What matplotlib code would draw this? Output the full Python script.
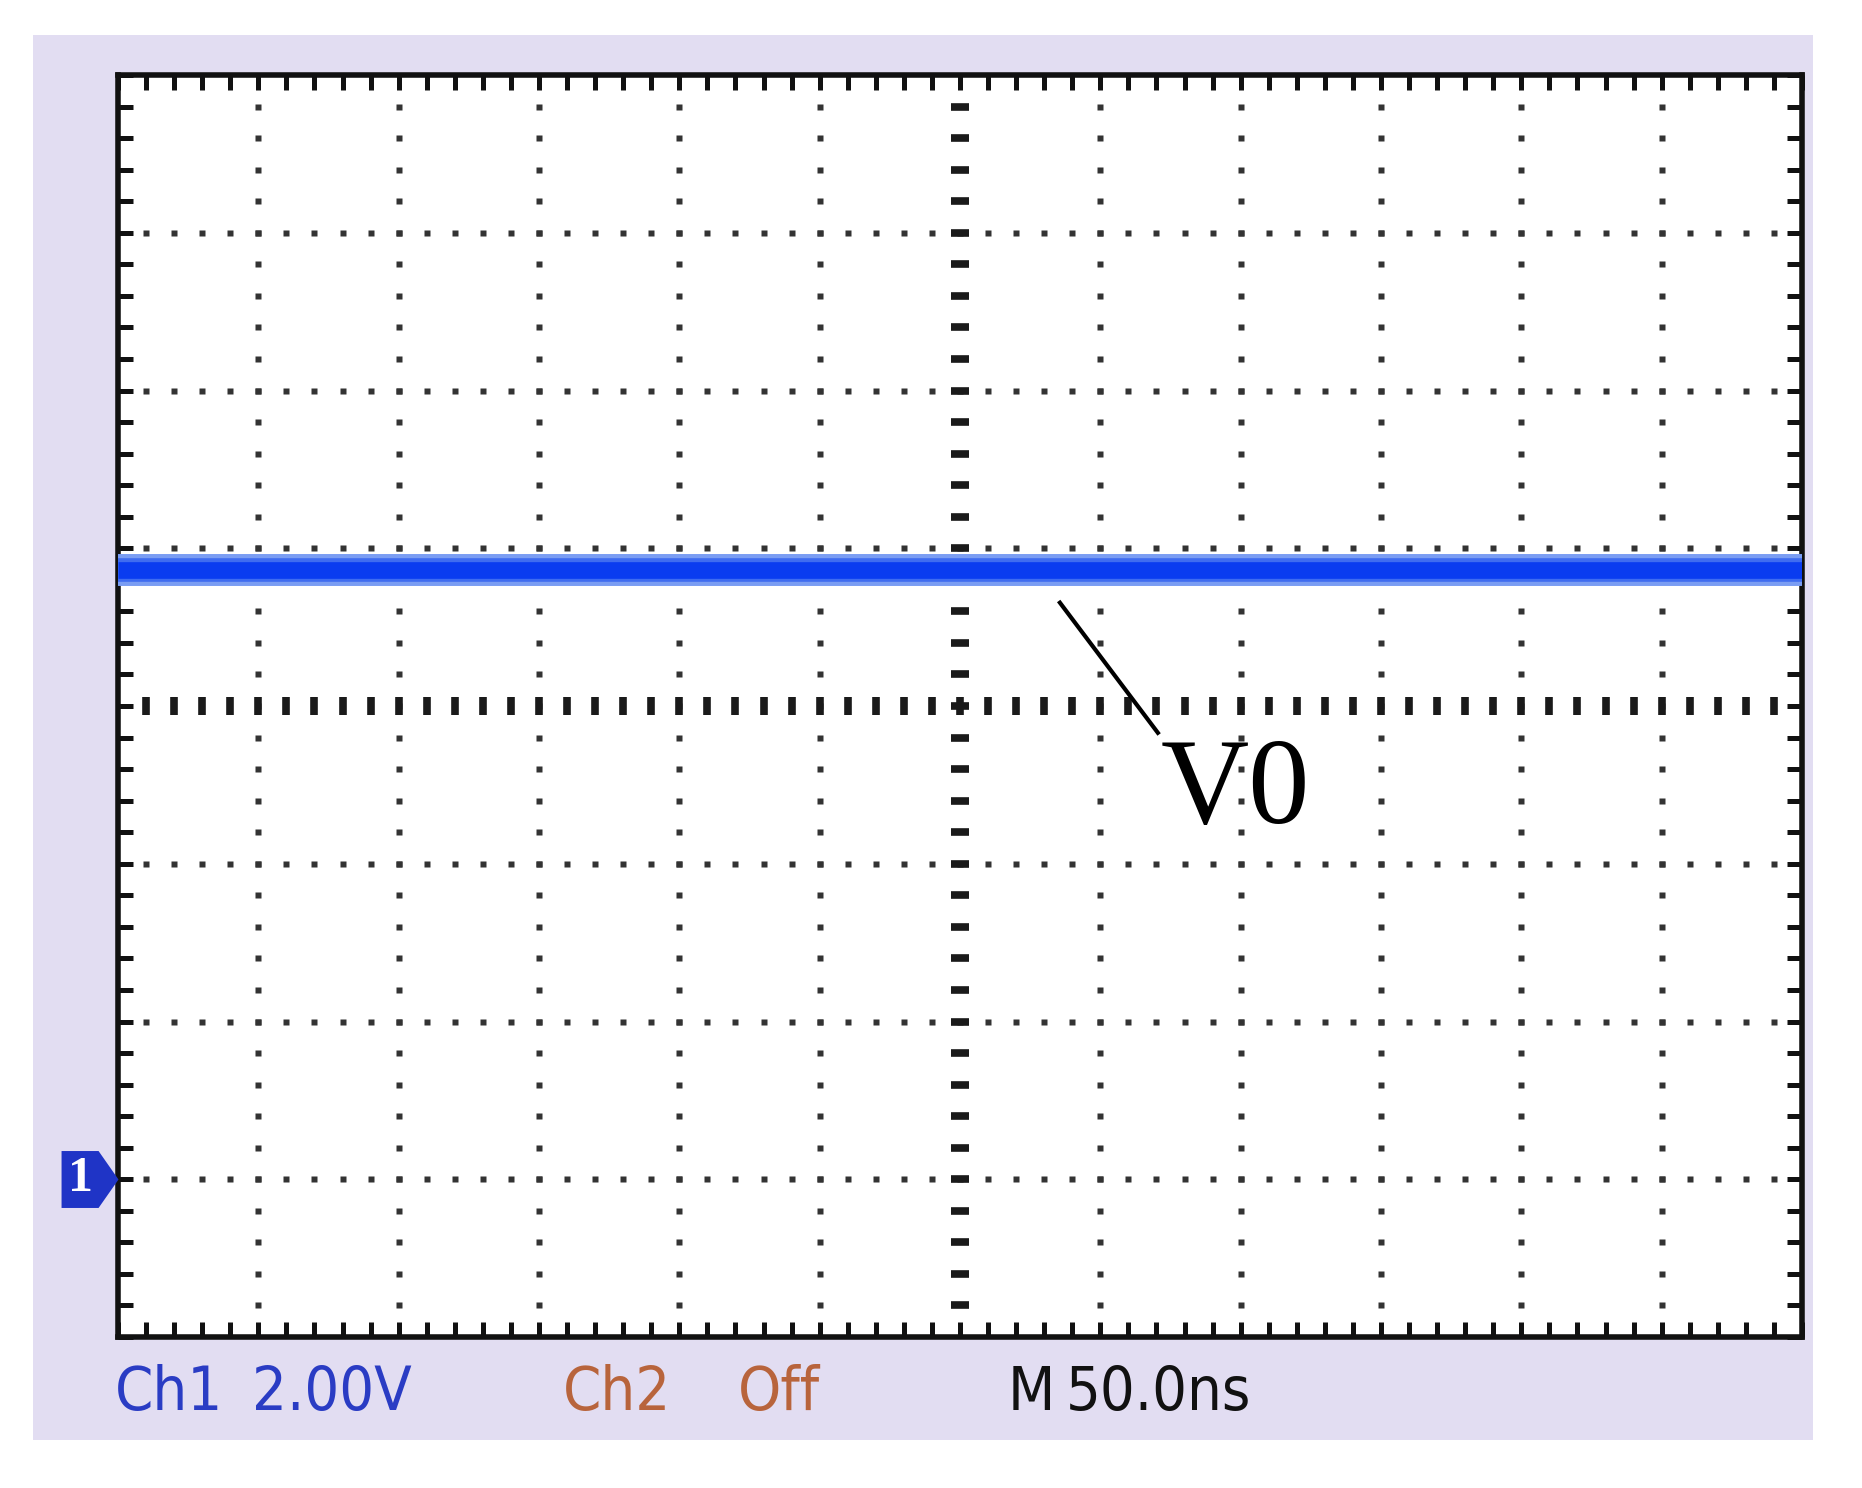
import numpy as np
import matplotlib.pyplot as plt
from matplotlib.patches import Rectangle
from matplotlib.path import Path

# scope settings
time_per_div = 50.0      # ns (M 50.0ns)
volts_per_div = 2.0      # V  (Ch1 2.00V)
n_xdiv = 12
n_ydiv = 8
ground_div = -3          # channel 1 ground marker, divisions from centre

# channel 1 trace: flat DC level
trace_t = [-300.0, 300.0]
trace_v = [7.72, 7.72]

# status line
status_labels = ["Ch1", "2.00V", "Ch2", "Off", "M", "50.0ns"]
status_colors = ["#2a3cc4", "#2a3cc4", "#b8643c", "#b8643c", "#111111", "#111111"]
status_x_px = [115, 252, 563, 738, 1008, 1066]

# annotation
label_text = "V0"
arrow_from = (35.6, 7.31)
arrow_to = (70.5, 5.66)


def main():
    W, H = 1862, 1488
    fig = plt.figure(figsize=(W / 100, H / 100), dpi=100)
    fig.patch.set_facecolor("white")

    # lavender scope panel
    fig.patches.append(Rectangle((33 / W, 1 - 1440 / H), 1780 / W, 1405 / H,
                                 transform=fig.transFigure, facecolor="#e2ddf2",
                                 edgecolor="none", zorder=-5))

    ax = fig.add_axes([118 / W, 1 - 1337 / H, 1684 / W, 1262 / H])
    ax.set_facecolor("white")
    ax.set_zorder(1)

    t0 = -n_xdiv / 2 * time_per_div
    t1 = n_xdiv / 2 * time_per_div
    ground = 0.0
    v_center = ground - ground_div * volts_per_div
    v0 = v_center - n_ydiv / 2 * volts_per_div
    v1 = v_center + n_ydiv / 2 * volts_per_div
    ax.set_xlim(t0, t1)
    ax.set_ylim(v0, v1)

    # graticule: dotted division lines
    xminor = np.arange(t0, t1 + 1e-9, time_per_div / 5)[1:-1]
    yminor = np.arange(v0, v1 + 1e-9, volts_per_div / 5)[1:-1]
    xmajor = np.arange(t0, t1 + 1e-9, time_per_div)[1:-1]
    ymajor = np.arange(v0, v1 + 1e-9, volts_per_div)[1:-1]
    dot = dict(ls="none", marker="s", ms=5, color="#333333", mec="none", zorder=1)
    for x in xmajor:
        if abs(x) > 1e-9:
            ax.plot(np.full_like(yminor, x), yminor, **dot)
    for y in ymajor:
        if abs(y - v_center) > 1e-9:
            ax.plot(xminor, np.full_like(xminor, y), **dot)

    # centre cross with tick dashes
    ax.plot(np.zeros_like(yminor), yminor, ls="none", marker="_", ms=13,
            mew=5.5, color="#1a1a1a", zorder=1)
    ax.plot(xminor, np.full_like(xminor, v_center), ls="none", marker="|", ms=13,
            mew=5.5, color="#1a1a1a", zorder=1)

    # frame ticks
    ax.set_xticks(np.arange(t0, t1 + 1e-9, time_per_div / 5))
    ax.set_yticks(np.arange(v0, v1 + 1e-9, volts_per_div / 5))
    ax.tick_params(direction="in", length=11, width=3.6, top=True, right=True,
                   labelbottom=False, labelleft=False, color="#111111")
    for s in ax.spines.values():
        s.set_linewidth(4)
        s.set_color("#111111")

    # trace
    ax.plot(trace_t, trace_v, color="#7a9df3", lw=23, solid_capstyle="butt", zorder=3)
    ax.plot(trace_t, trace_v, color="#3f6cf0", lw=17, solid_capstyle="butt", zorder=3)
    ax.plot(trace_t, trace_v, color="#0a3cf0", lw=12, solid_capstyle="butt", zorder=4)

    # V0 label with leader line
    ax.plot([arrow_from[0], arrow_to[0]], [arrow_from[1], arrow_to[1]],
            color="black", lw=3, zorder=5)
    ax.text(arrow_to[0] + 1, 4.52, label_text, family="Liberation Serif",
            fontsize=88, ha="left", va="baseline", color="black", zorder=6)

    # channel 1 ground marker
    verts = [(0, 0), (-0.35, 0.5), (-1, 0.5), (-1, -0.5), (-0.35, -0.5), (0, 0)]
    codes = [Path.MOVETO] + [Path.LINETO] * 4 + [Path.CLOSEPOLY]
    ax.plot([t0], [ground], marker=Path(verts, codes), ms=82, color="#1f34c6",
            mec="none", clip_on=False, zorder=6)
    ax.annotate("1", xy=(t0, ground), xytext=(-27, 0), textcoords="offset points",
                ha="center", va="center", color="white", fontweight="bold",
                family="Liberation Serif", fontsize=36, annotation_clip=False,
                zorder=8)

    # status line
    for lab, col, xp in zip(status_labels, status_colors, status_x_px):
        fig.text(xp / W, 1 - 1410 / H, lab, color=col, fontsize=44,
                 family="DejaVu Sans", fontstretch="condensed",
                 ha="left", va="baseline")

    fig.savefig("out.png", dpi=100, facecolor="white")


if __name__ == "__main__":
    main()
